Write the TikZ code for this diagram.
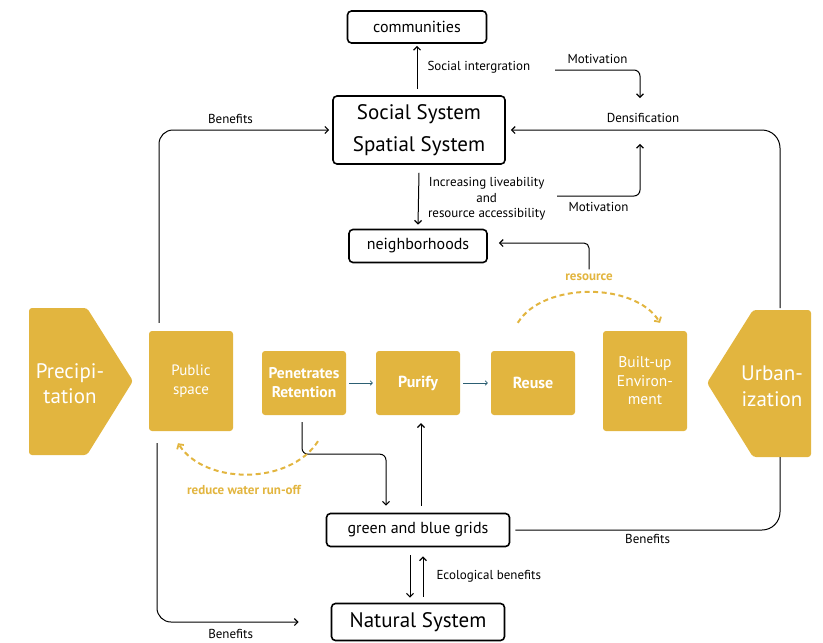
\documentclass[tikz,border=0pt]{standalone}
\usepackage{fontspec}
\setmainfont{PT Sans}
\usetikzlibrary{arrows.meta}
\definecolor{gold}{HTML}{E2B53F}
\definecolor{petrol}{HTML}{2C5F73}

\begin{document}
\begin{tikzpicture}[x=1pt,y=-1pt,
	sysbox/.style={draw,line width=1.6pt,rounded corners=4pt,inner sep=0pt,font=\fontsize{16}{19}\selectfont},
	ybox/.style={fill=gold,rounded corners=3pt,text=white,align=center,inner sep=0pt,minimum width=84pt},
	lbl/.style={font=\fontsize{13}{15.5}\selectfont,align=center,inner sep=1pt},
	conn/.style={line width=1pt,-{Straight Barb[length=3.5pt,width=7pt,line width=1.2pt]}},
	ydash/.style={gold,line width=2pt,dash pattern=on 5pt off 3.5pt,-{Straight Barb[length=3.5pt,width=8pt,line width=1.8pt]}},
	flow/.style={petrol,line width=0.8pt,shorten <=3pt,shorten >=3pt,-{Straight Barb[length=2pt,width=4.5pt]}}]
			\useasboundingbox (0,0) rectangle (823,643);
			\node[sysbox,minimum width=139pt,minimum height=32pt] (comm) at (417,27) {communities};
			\node[sysbox,minimum width=172pt,minimum height=68pt,align=center,font=\fontsize{21}{32}\selectfont] (social) at (419,130) {Social System\\Spatial System};
			\node[sysbox,minimum width=138pt,minimum height=33pt] (neigh) at (418,246) {neighborhoods};
			\node[sysbox,minimum width=183pt,minimum height=33pt] (grid) at (418,530) {green and blue grids};
			\node[sysbox,minimum width=173pt,minimum height=37pt,font=\fontsize{21}{24}\selectfont] (natural) at (418,622) {Natural System};
			\fill[gold,rounded corners=3pt] (29,308)--(87,308)--(133,381)--(87,455)--(29,455)--cycle;
			\node[text=white,align=center,font=\fontsize{21}{25}\selectfont] (precip) at (70,384) {Precipi-\\tation};
			\node[ybox,minimum height=100pt,font=\fontsize{15}{19.5}\selectfont] (pub) at (191,381) {Public\\space};
			\node[ybox,minimum height=64pt,font=\fontsize{15.5}{19}\selectfont\bfseries] (pen) at (304,383) {Penetrates\\Retention};
			\node[ybox,minimum height=64pt,font=\fontsize{16}{19}\selectfont\bfseries] (purify) at (418,383) {Purify};
			\node[ybox,minimum height=64pt,font=\fontsize{16}{19}\selectfont\bfseries] (reuse) at (533,383) {Reuse};
			\node[ybox,minimum height=100pt,font=\fontsize{15.5}{18.5}\selectfont] (built) at (645,381) {Built-up\\Environ-\\ment};
			\fill[gold,rounded corners=3pt] (811,310)--(753,310)--(707,383)--(753,457)--(811,457)--cycle;
			\node[text=white,align=center,font=\fontsize{21}{26}\selectfont] (urban) at (772,386) {Urban-\\ization};
			\coordinate (urbtop) at (780,308);
			\coordinate (urbbot) at (780,457);
			\coordinate (mot1) at (555,70);
			\coordinate (mot2) at (557,196);
			\node[lbl] (dens) at (643,118) {Densification};
			\node[lbl,text=gold,font=\fontsize{13}{15}\selectfont\bfseries] (reslbl) at (589,277) {resource};
			\node[lbl,text=gold,font=\fontsize{13}{15}\selectfont\bfseries] (runoff) at (244,490) {reduce water run-off};
			\draw[flow] (pen)--(purify);
			\draw[flow] (purify)--(reuse);
			\draw[conn] ([xshift=-2pt,yshift=6pt]social.north)--([yshift=-2pt]comm.south)node[lbl,midway,right=9pt]{Social intergration};
			\draw[conn] ([yshift=-8pt]social.south)--([yshift=4pt]neigh.north)node[lbl,midway,right=8pt]{Increasing liveability\\and\\resource accessibility};
			\draw[conn,rounded corners=6pt] (mot1)-|([xshift=-3pt,yshift=14pt]dens.north)node[lbl,pos=0.25,above=5pt]{Motivation};
			\draw[conn,rounded corners=6pt] (mot2)-|([xshift=-3pt,yshift=-20pt]dens.south)node[lbl,pos=0.25,below=5pt]{Motivation};
			\draw[conn,rounded corners=18pt] (urbtop)|-([xshift=5pt]social.east);
			\draw[conn,rounded corners=14pt] ([xshift=-32pt,yshift=8pt]pub.north)|-([xshift=-3pt]social.west)node[lbl,pos=0.71,above=5pt]{Benefits};
			\draw[conn,rounded corners=14pt] ([xshift=-34pt,yshift=-12pt]pub.south)|-([xshift=-32pt]natural.west)node[lbl,pos=0.76,below=6pt]{Benefits};
			\draw[conn,rounded corners=6pt] ([xshift=-2pt,yshift=-7pt]pen.south)--++(0,32)-|([xshift=-32pt,yshift=7pt]grid.north);
			\draw[conn] ([xshift=3pt,yshift=7pt]grid.north)--([xshift=3pt,yshift=-8pt]purify.south);
			\draw[line width=1pt,rounded corners=18pt] ([xshift=5pt]grid.east)-|(urbbot)node[lbl,pos=0.25,below=3pt]{Benefits};
			\draw[conn] ([xshift=-8pt,yshift=-8pt]grid.south)--([xshift=-8pt,yshift=5pt]natural.north);
			\draw[conn] ([xshift=5pt,yshift=6pt]natural.north)--([xshift=5pt,yshift=-9pt]grid.south)node[lbl,midway,right=12pt]{Ecological benefits};
			\draw[conn,rounded corners=5pt] ([yshift=3pt]reslbl.north)|-([xshift=11pt,yshift=3pt]neigh.east);
			\draw[ydash] ([xshift=27pt,yshift=28pt]reuse.north west)..controls +(25,-41) and +(-25,-41)..([xshift=15pt,yshift=8pt]built.north);
			\draw[ydash] ([xshift=14pt,yshift=-26pt]pen.south)..controls +(-28,44) and +(27,42)..([xshift=-13pt,yshift=-12pt]pub.south);
		\end{tikzpicture}
\end{document}
